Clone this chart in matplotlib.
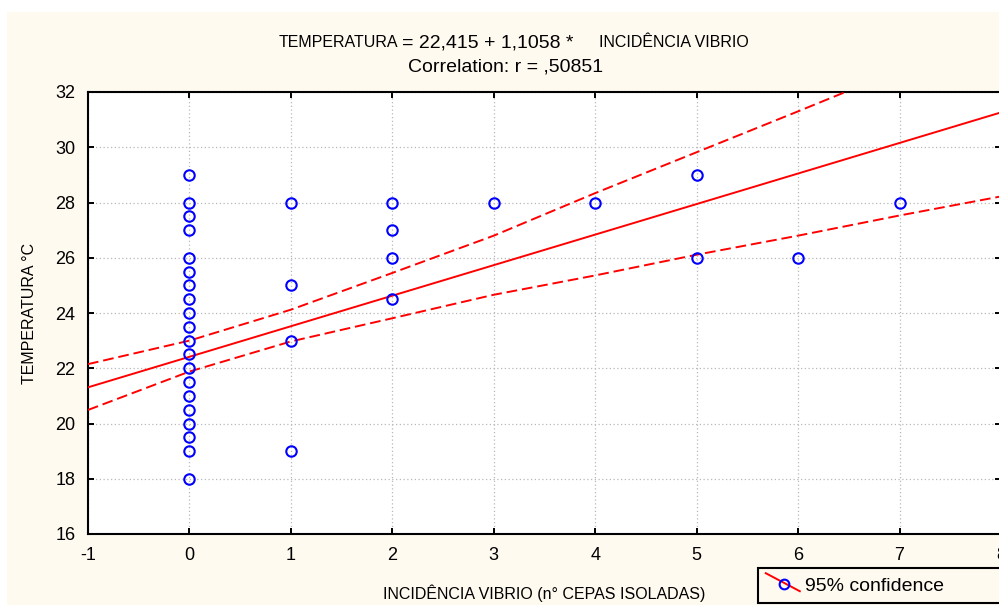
import matplotlib
matplotlib.use("Agg")
import matplotlib.pyplot as plt
from matplotlib.lines import Line2D
from matplotlib.patches import Rectangle
from matplotlib.legend_handler import HandlerBase

plt.rcParams['font.family'] = ['Liberation Sans', 'DejaVu Sans']
plt.rcParams['axes.unicode_minus'] = False

# observações
incidencia = [0, 0, 0, 0, 0, 0, 0, 0, 0, 0, 0, 0, 0, 0, 0, 0, 0, 0, 0, 0,
              1, 1, 1, 1, 2, 2, 2, 2, 3, 4, 5, 5, 6, 7]
temperatura = [29, 28, 27.5, 27, 26, 25.5, 25, 24.5, 24, 23.5, 23, 22.5, 22, 21.5,
               21, 20.5, 20, 19.5, 19, 18,
               28, 25, 23, 19, 28, 27, 26, 24.5, 28, 28, 29, 26, 26, 28]

# reta de regressão e banda de 95%
intercepto = 22.415
inclinacao = 1.1058
x_banda = [-1, 0, 1, 2, 3, 4, 5, 6, 7, 8]
banda_sup = [22.15, 23.0, 24.12, 25.45, 26.8, 28.34, 29.82, 31.3, 32.8, 34.3]
banda_inf = [20.49, 21.88, 22.97, 23.81, 24.66, 25.36, 26.11, 26.8, 27.53, 28.22]

x_ticks = [-1, 0, 1, 2, 3, 4, 5, 6, 7, 8]
y_ticks = [16, 18, 20, 22, 24, 26, 28, 30, 32]

creme = '#fffaf0'


class HandlerDiagonal(HandlerBase):
    def create_artists(self, legend, orig_handle, xdescent, ydescent,
                       width, height, fontsize, trans):
        linha = Line2D([0, width], [height, 0], color='red', lw=1.4)
        marca = Line2D([width * 0.54], [height * 0.38], marker='o', ls='',
                       mfc='none', mec='blue', ms=7, mew=1.5)
        linha.set_transform(trans)
        marca.set_transform(trans)
        return [linha, marca]


fig = plt.figure(figsize=(9.99, 6.05), dpi=100, facecolor='white')
fig.patches.append(Rectangle((7 / 999, 0), 1, 1 - 12 / 605, transform=fig.transFigure,
                             facecolor=creme, edgecolor='none', zorder=-10))

ax = fig.add_axes([88 / 999, 1 - 534 / 605, 913 / 999, 442 / 605])
ax.set_facecolor('white')

xs = [x_banda[0], x_banda[-1]]
ax.plot(xs, [intercepto + inclinacao * v for v in xs], color='red', lw=1.4, zorder=3)
ax.plot(x_banda, banda_sup, color='red', lw=1.4, ls=(0, (5.5, 2.5)), zorder=3)
ax.plot(x_banda, banda_inf, color='red', lw=1.4, ls=(0, (5.5, 2.5)), zorder=3)
pontos, = ax.plot(incidencia, temperatura, ls='', marker='o', mfc='none', mec='blue',
                  ms=7.5, mew=1.5, zorder=4)

ax.set_xlim(-1, 8)
ax.set_ylim(16, 32)
ax.set_xticks(x_ticks)
ax.set_yticks(y_ticks)
ax.grid(True, color='#b8b8b8', ls=(0, (1, 2)), lw=0.9)
ax.tick_params(direction='in', length=4, width=1.4, top=True, right=True,
               labelsize=13, colors='black')
ax.tick_params(axis='x', pad=9)
ax.tick_params(axis='y', pad=9)
for s in ax.spines.values():
    s.set_linewidth(1.5)
    s.set_color('black')

ax.set_xlabel("INCIDÊNCIA VIBRIO (n° CEPAS ISOLADAS)", fontsize=11.5, labelpad=15)
ax.set_ylabel("TEMPERATURA °C", fontsize=11.5, labelpad=13)

# título
fig.text(398 / 999, 1 - 47 / 605, "TEMPERATURA", ha='right', va='baseline', fontsize=11.5)
fig.text(402 / 999, 1 - 47 / 605, "= 22,415 + 1,1058 *", ha='left', va='baseline', fontsize=14)
fig.text(599 / 999, 1 - 47 / 605, "INCIDÊNCIA VIBRIO", ha='left', va='baseline', fontsize=11.5)
fig.text(506 / 999, 1 - 72 / 605, "Correlation: r = ,50851", ha='center', va='baseline',
         fontsize=14)

leg = fig.legend([pontos], ["95% confidence"], handler_map={pontos: HandlerDiagonal()},
                 loc='lower left', bbox_to_anchor=(758 / 999, 2 / 605, 260 / 999, 35 / 605),
                 mode='expand', fontsize=14, handlelength=1.75, handleheight=1.05,
                 handletextpad=0.25, borderpad=0.4, borderaxespad=0, fancybox=False,
                 framealpha=1, facecolor=creme, edgecolor='black')
leg.get_frame().set_linewidth(1.5)

fig.savefig("out.png", dpi=100, facecolor=fig.get_facecolor())
